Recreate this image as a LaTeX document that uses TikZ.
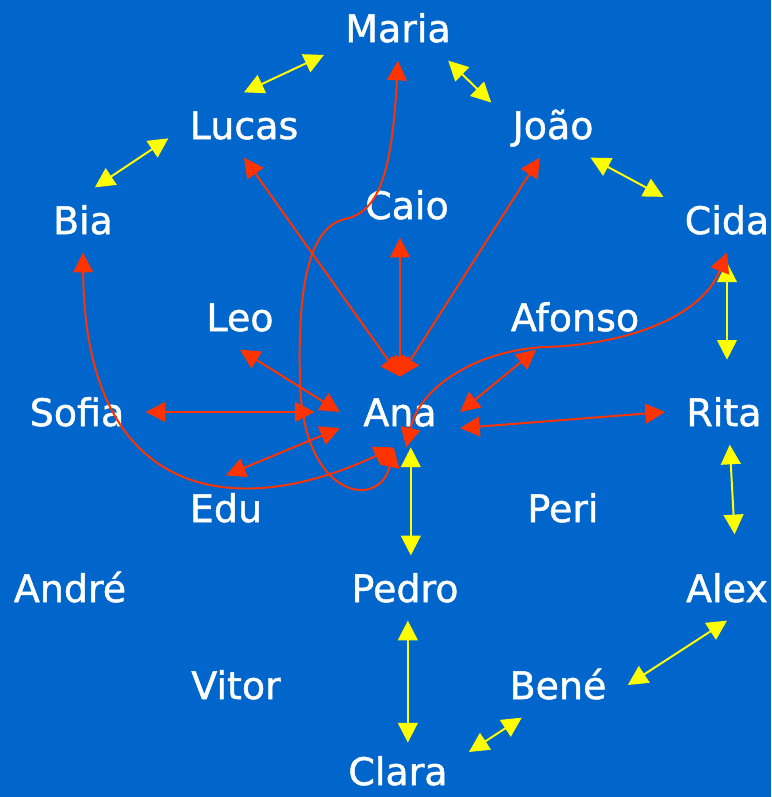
\documentclass[tikz,border=0pt]{standalone}
\usepackage{fontspec}
\setmainfont{DejaVu Sans}
\newfontfamily\namefont{DejaVu Sans}[FakeBold=1.2]
\usepackage{tikz}
\usetikzlibrary{arrows.meta}
\definecolor{bgblue}{HTML}{0066CC}
\definecolor{redline}{HTML}{FF3300}
\definecolor{yelline}{HTML}{FFFF00}

\begin{document}
\begin{tikzpicture}[x=0.025cm,y=-0.025cm]
          \tikzstyle{person}=[text=white,font=\namefont\fontsize{27}{32}\selectfont,text height=20pt,text depth=0pt,inner xsep=15pt,inner ysep=13pt]
          \tikzstyle{hub}=[person,inner sep=0pt,minimum width=85pt,minimum height=50pt]
          \tikzstyle{redge}=[draw=redline,line width=1.4pt,>={Triangle[length=14pt,width=14pt]},<->]
          \tikzstyle{yedge}=[draw=yelline,line width=1.4pt,>={Triangle[length=14pt,width=14pt]},<->]
          \fill[bgblue] (0,0) rectangle (771,797);
          \useasboundingbox (0,0) rectangle (771,797);
          \node[person] (maria) at (398,28) {Maria};
          \node[person] (lucas) at (244,125) {Lucas};
          \node[person] (joao) at (553,125) {João};
          \node[person] (bia) at (83,220) {Bia};
          \node[person] (caio) at (407,205) {Caio};
          \node[person] (cida) at (727,220) {Cida};
          \node[person] (leo) at (240,317) {Leo};
          \node[person] (afonso) at (575,317) {Afonso};
          \node[person] (sofia) at (77,412) {Sofia};
          \node[hub] (ana) at (400,412) {Ana};
          \node[person] (rita) at (724,412) {Rita};
          \node[person] (edu) at (226,508) {Edu};
          \node[person] (peri) at (563,508) {Peri};
          \node[person] (andre) at (70,588) {André};
          \node[person] (pedro) at (405,588) {Pedro};
          \node[person] (alex) at (727,588) {Alex};
          \node[person] (vitor) at (236,685) {Vitor};
          \node[person] (bene) at (558,685) {Bené};
          \node[person,inner ysep=4pt] (clara) at (398,771) {Clara};
          \foreach \a/\b in {lucas.north/maria.200,maria.-33/joao.160,bia.70/lucas.190,joao.-41/cida.160,alex.south/bene.east,bene.-138/clara.15}
            \draw[yedge] (\a) -- (\b);
          \draw[yedge,shorten <=7pt,shorten >=14pt] (cida.south) -- (cida.south |- rita.north);
          \draw[yedge,shorten >=15pt] (rita.-80) -- (alex.75);
          \draw[yedge] (ana.-73) -- (ana.-73 |- pedro.north);
          \draw[yedge,shorten >=6pt] (pedro.-85) -- (pedro.-85 |- clara.north);
          \foreach \v in {lucas.south,joao.-112}
            \draw[redge] (ana.north) -- (\v);
          \draw[redge] (ana.north) -- (ana.north |- caio.south);
          \foreach \a/\b in {leo.south/ana.west,edu.north/ana.195,afonso.220/ana.east,rita.west/ana.345}
            \draw[redge] (\a) -- (\b);
          \draw[redge,shorten >=18pt] (sofia.east) -- (ana.west);
          \draw[redge] (bia.south) .. controls (85,505) and (240,520) .. (ana.-100);
          \draw[redge] (maria.south) .. controls (392,170) and (380,212) .. (345,219)
            .. controls (305,228) and (298,300) .. (300,380)
            .. controls (302,500) and (380,510) .. (ana.-100);
          \draw[redge] (cida.south) .. controls (700,320) and (620,345) .. (545,347)
            .. controls (480,350) and (420,385) .. (ana.-80);
        \end{tikzpicture}
\end{document}
